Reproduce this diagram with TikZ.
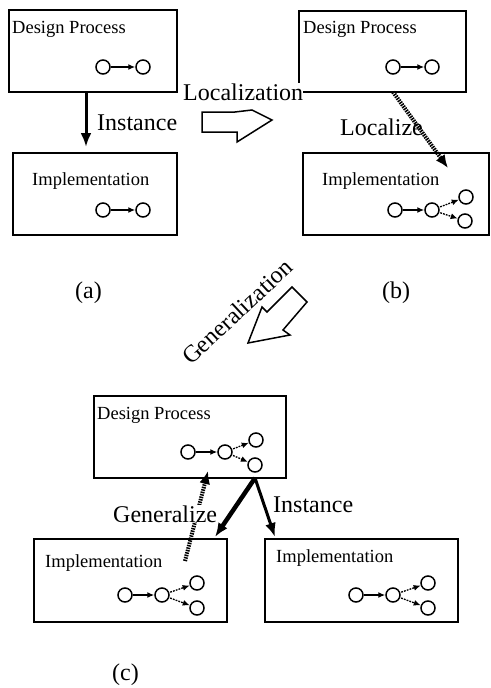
\documentclass[tikz,border=0pt]{standalone}
\usepackage{fontspec}
\setmainfont{Liberation Serif}
\usetikzlibrary{arrows.meta}
\tikzset{
  box/.style={draw, line width=1.8pt, rectangle, anchor=north west, inner sep=0pt},
  circ/.style={circle, draw, line width=1.5pt, minimum size=14pt, inner sep=0pt},
  small/.style={font=\fontsize{18.5}{20}\selectfont, anchor=base west, inner sep=0pt},
  big/.style={font=\fontsize{24}{26}\selectfont, anchor=base west, inner sep=0pt},
  link/.style={-{Latex[length=7pt,width=6pt]}, line width=1.3pt, shorten <=0.5pt},
  dlink/.style={link, dash pattern=on 1.8pt off 1.1pt, shorten <=1pt},
  fat/.style={-{Latex[length=14pt,width=11pt]}, line width=3pt},
  hatch/.style={-{Latex[length=13pt,width=11pt]}, line width=4pt, dash pattern=on 1.5pt off 1pt},
  hollow/.style={draw, line width=1.5pt, line join=miter},
}
\newcommand\twoch[4]{%
  \node[circ] (#1c1) at (#2,#3) {};
  \node[circ] (#1c2) at (#2+#4,#3) {};
  \draw[link] (#1c1) -- (#1c2);
}
\newcommand\fourch[5]{%
  \node[circ] (#1c1) at (#2,#3) {};
  \node[circ] (#1c2) at (#2+37,#3) {};
  \node[circ] (#1c3) at (#2+37+#4,#3-12) {};
  \node[circ] (#1c4) at (#2+37+#5,#3+13) {};
  \draw[link] (#1c1) -- (#1c2);
  \draw[dlink] (#1c2) -- (#1c3);
  \draw[dlink] (#1c2) -- (#1c4);
}
\begin{document}
\begin{tikzpicture}[x=1pt,y=-1pt]
\useasboundingbox (0,0) rectangle (490,688);
% ---------- (a)
\node[box, minimum width=168pt, minimum height=82pt] (aDP) at (8,9) {};
\node[small] (aDPt) at (12,33) {Design Process};
\twoch{aD}{103}{67}{40}
\node[box, minimum width=164pt, minimum height=82pt] (aIM) at (12,152) {};
\node[small] (aIMt) at (32,185) {Implementation};
\twoch{aI}{103}{210}{40}
\coordinate (aS) at (86,93);
\coordinate (aE) at (86,147);
\draw[fat] (aS) -- (aE);
\node[big] (aInst) at (97,130) {Instance};
\node[big] (la) at (75,298) {(a)};
% ---------- (b)
\node[box, minimum width=167pt, minimum height=81pt] (bDP) at (298,10) {};
\node[small] (bDPt) at (303,33) {Design Process};
\twoch{bD}{393}{67}{39}
\node[big, fill=white] (bLoc) at (183,100) {Localization};
\draw[hollow] (202,112) -- (235,112) -- (252,110) -- (272,120) -- (237,142) -- (237,132) -- (202,132) -- cycle;
\node[box, minimum width=186pt, minimum height=82pt] (bIM) at (302,152) {};
\node[small] (bIMt) at (322,185) {Implementation};
\node[circ] (bIc1) at (395,210) {};
\node[circ] (bIc2) at (432,210) {};
\node[circ] (bIc3) at (466,197) {};
\node[circ] (bIc4) at (465,221) {};
\draw[link] (bIc1) -- (bIc2);
\draw[dlink] (bIc2) -- (bIc3);
\draw[dlink] (bIc2) -- (bIc4);
\node[big] (bLz) at (340,135) {Localize};
\coordinate (bS) at (393,92);
\coordinate (bE) at (448,168);
\draw[hatch] (bS) -- (bE);
\node[big] (lb) at (382,298) {(b)};
% ---------- Generalization
\node[big, rotate=43] (gen) at (191,366) {Generalization};
\draw[hollow] (292,287) -- (307,302) -- (283,330) -- (290,335) -- (248,343) -- (262,307) -- (267,312) -- cycle;
% ---------- (c)
\node[box, minimum width=192pt, minimum height=82pt] (cDP) at (93,395) {};
\node[small] (cDPt) at (97,419) {Design Process};
\fourch{cD}{188}{452}{31}{30}
\node[box, minimum width=193pt, minimum height=83pt] (cL) at (33,538) {};
\node[small] (cLt) at (45,567) {Implementation};
\fourch{cL}{125}{595}{35}{35}
\node[box, minimum width=193pt, minimum height=83pt] (cR) at (264,538) {};
\node[small] (cRt) at (276,562) {Implementation};
\fourch{cR}{356}{595}{35}{35}
\coordinate (cS) at (255,478);
\coordinate (cE1) at (215,537);
\coordinate (cE2) at (275,537);
\draw[fat, line width=4.5pt] (cS) -- (cE1);
\draw[fat] (cS) -- (cE2);
\node[big] (cInst) at (273,512) {Instance};
\coordinate (gS) at (185,561);
\coordinate (gE) at (208,471);
\draw[hatch] (gS) -- (gE);
\node[big, fill=white] (cGen) at (113,522) {Generalize};
\node[big] (lc) at (112,680) {(c)};
\end{tikzpicture}
\end{document}
